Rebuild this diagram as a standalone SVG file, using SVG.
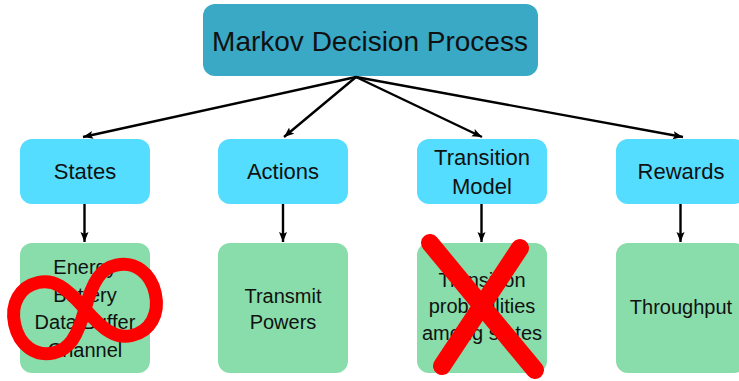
<svg xmlns="http://www.w3.org/2000/svg" width="739" height="381" viewBox="0 0 739 381">
  <defs>
    <style>
      .top { fill: #39a9c6; }
      .cat { fill: #55ddff; }
      .leaf { fill: #88ddaa; }
      text { font-family: "Liberation Sans", Arial, sans-serif; fill: #111; text-anchor: middle; }
      .t-top { font-size: 28px; }
      .t-cat { font-size: 22px; }
      .t-leaf { font-size: 20px; }
      .edge { stroke: #000; stroke-width: 2.4; fill: none; marker-end: url(#arrow); }
      .mark { stroke: #ff0000; fill: none; stroke-linecap: round; stroke-linejoin: round; }
    </style>
    <marker id="arrow" markerUnits="userSpaceOnUse" markerWidth="12" markerHeight="10" refX="10" refY="4" orient="auto">
      <path d="M0,0 L10,4 L0,8 L2,4 Z" fill="#000"/>
    </marker>
  </defs>

  <!-- root -->
  <g id="mdp">
    <rect class="top" x="203" y="4" width="335" height="72" rx="12"/>
    <text class="t-top" x="370" y="51">Markov Decision Process</text>
  </g>

  <!-- categories -->
  <g id="states">
    <rect class="cat" x="20" y="139" width="130" height="65" rx="12"/>
    <text class="t-cat" x="85" y="179">States</text>
  </g>
  <g id="actions">
    <rect class="cat" x="218" y="139" width="130" height="65" rx="12"/>
    <text class="t-cat" x="283" y="179">Actions</text>
  </g>
  <g id="transition-model">
    <rect class="cat" x="417" y="139" width="130" height="65" rx="12"/>
    <text class="t-cat" x="482" y="165">Transition</text>
    <text class="t-cat" x="482" y="194">Model</text>
  </g>
  <g id="rewards">
    <rect class="cat" x="616" y="139" width="130" height="65" rx="12"/>
    <text class="t-cat" x="681" y="179">Rewards</text>
  </g>

  <!-- leaves -->
  <g id="states-detail">
    <rect class="leaf" x="20" y="243" width="130" height="130" rx="12"/>
    <text class="t-leaf" x="85" y="274">Energy</text>
    <text class="t-leaf" x="85" y="301.5">Battery</text>
    <text class="t-leaf" x="85" y="329">Data Buffer</text>
    <text class="t-leaf" x="85" y="356.5">Channel</text>
  </g>
  <g id="actions-detail">
    <rect class="leaf" x="218" y="243" width="130" height="130" rx="12"/>
    <text class="t-leaf" x="283" y="303">Transmit</text>
    <text class="t-leaf" x="283" y="329">Powers</text>
  </g>
  <g id="transition-detail">
    <rect class="leaf" x="417" y="243" width="130" height="130" rx="12"/>
    <text class="t-leaf" x="482" y="287">Transition</text>
    <text class="t-leaf" x="482" y="313">probabilities</text>
    <text class="t-leaf" x="482" y="340">among states</text>
  </g>
  <g id="rewards-detail">
    <rect class="leaf" x="616" y="243" width="130" height="130" rx="12"/>
    <text class="t-leaf" x="681" y="314">Throughput</text>
  </g>

  <!-- connectors -->
  <g id="connectors">
    <line class="edge" x1="356" y1="77" x2="83" y2="137"/>
    <line class="edge" x1="356" y1="77" x2="284" y2="137"/>
    <line class="edge" x1="356" y1="77" x2="482" y2="137"/>
    <line class="edge" x1="356" y1="77" x2="683" y2="137"/>
    <line class="edge" x1="84.5" y1="204" x2="84.5" y2="242"/>
    <line class="edge" x1="283" y1="204" x2="283" y2="242"/>
    <line class="edge" x1="481.5" y1="204" x2="481.5" y2="242"/>
    <line class="edge" x1="680.5" y1="204" x2="680.5" y2="242"/>
  </g>

  <!-- overlaid marks -->
  <g id="infinity-mark">
    <path class="mark" stroke-width="13" transform="translate(85,309) rotate(-12.5)"
      d="M0,0 C14,-26 24,-36 40,-36 C59,-36 72,-21 72,0 C72,21 59,36 40,36 C24,36 14,26 0,0
         C-14,-26 -24,-36 -40,-36 C-59,-36 -72,-21 -72,0 C-72,21 -59,36 -40,36 C-24,36 -14,26 0,0 Z"/>
  </g>
  <g id="cross-mark">
    <line class="mark" stroke-width="18" x1="430" y1="243" x2="535" y2="370"/>
    <line class="mark" stroke-width="18" x1="520" y1="248" x2="442" y2="366"/>
  </g>
</svg>
